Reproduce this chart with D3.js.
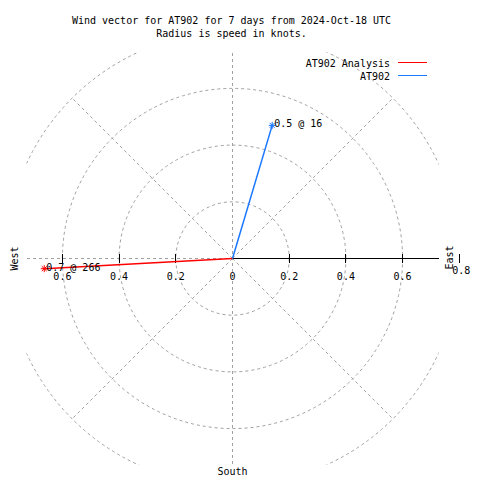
<!DOCTYPE html>
<html>
<head>
<meta charset="utf-8">
<script src="https://cdn.jsdelivr.net/npm/d3@7"></script>
<style>
  html, body { margin: 0; padding: 0; background: #fff; }
  svg { display: block; }
  text { font-family: "DejaVu Sans Mono", "Liberation Mono", monospace; font-size: 10px; fill: #000; }
</style>
</head>
<body>
<div id="chart"></div>
<script>
// ---- data ----
const titleLines = ["Wind vector for AT902 for 7 days from 2024-Oct-18 UTC", "Radius is speed in knots."];
const seriesNames = ["AT902 Analysis", "AT902"];
const seriesColors = ["#ff0000", "#1a78ff"];
const seriesSpeed = [0.665, 0.49];      // knots
const seriesDir = [266.9, 16.6];        // degrees, clockwise from north
const seriesLabels = ["0.7 @ 266", "0.5 @ 16"];
const ringValues = [0.2, 0.4, 0.6, 0.8];
const tickValues = [0.2, 0.4, 0.6];
const tickLabelsWest = ["0.6", "0.4", "0.2"];
const tickLabelsEast = ["0", "0.2", "0.4", "0.6", "0.8"];
const compassLabels = ["West", "East", "South"];
const spokeAngles = [45, 135, 225, 315];

// ---- layout ----
const W = 480, H = 480;
const cx = 232.5, cy = 258.5;
const half = 206;  // half width of plot square (px)
const r = d3.scaleLinear().domain([0, 0.8]).range([0, 226.8]);

const svg = d3.select("#chart").append("svg").attr("width", W).attr("height", H);

svg.append("defs").append("clipPath").attr("id", "plotclip")
  .append("rect").attr("x", cx - half).attr("y", cy - half).attr("width", 2 * half).attr("height", 2 * half);

const grid = svg.append("g").attr("clip-path", "url(#plotclip)")
  .attr("fill", "none").attr("stroke", "#a0a0a0").attr("stroke-width", 1).attr("stroke-dasharray", "3,3");

// rings
grid.selectAll("circle").data(ringValues).join("circle")
  .attr("cx", cx).attr("cy", cy).attr("r", d => r(d));

// vertical & horizontal lines
grid.append("line").attr("x1", cx).attr("x2", cx).attr("y1", cy - half).attr("y2", cy + half).attr("shape-rendering", "crispEdges");
grid.append("line").attr("x1", cx - half).attr("x2", cx).attr("y1", cy).attr("y2", cy).attr("shape-rendering", "crispEdges");

// diagonal spokes
grid.selectAll("line.spoke").data(spokeAngles).join("line").attr("class", "spoke")
  .attr("x1", cx).attr("y1", cy)
  .attr("x2", d => cx + r(0.8) * Math.sin(d * Math.PI / 180))
  .attr("y2", d => cy - r(0.8) * Math.cos(d * Math.PI / 180));

// east axis (solid black)
const ax = svg.append("g").attr("stroke", "#000").attr("stroke-width", 1).attr("shape-rendering", "crispEdges");
ax.append("line").attr("x1", cx).attr("x2", cx + half).attr("y1", cy).attr("y2", cy);
// ticks both sides
const tickPos = [];
tickValues.forEach(v => { tickPos.push(cx - r(v)); tickPos.push(cx + r(v)); });
tickPos.push(cx + r(0.8));
ax.selectAll("line.tick").data(tickPos).join("line").attr("class", "tick")
  .attr("x1", d => d).attr("x2", d => d).attr("y1", cy - 5).attr("y2", cy + 4);

// tick labels
const tl = svg.append("g").attr("text-anchor", "middle");
tl.selectAll("text.w").data(tickLabelsWest).join("text").attr("class", "w")
  .attr("x", d => cx - r(+d)).attr("y", cy + 21).text(d => d);
tl.selectAll("text.e").data(tickLabelsEast).join("text").attr("class", "e")
  .attr("x", d => cx + r(+d) + (+d === 0.8 ? 2 : 0)).attr("y", d => cy + (+d === 0.8 ? 15 : 21)).text(d => d);

// compass labels
svg.append("text").attr("transform", `translate(${cx - half - 9},${cy}) rotate(-90)`).attr("text-anchor", "middle").text(compassLabels[0]);
svg.append("text").attr("transform", `translate(${cx + half + 14},${cy - 1}) rotate(-90)`).attr("text-anchor", "middle").text(compassLabels[1]);
svg.append("text").attr("x", cx).attr("y", cy + 216).attr("text-anchor", "middle").text(compassLabels[2]);

// vectors
const pts = seriesSpeed.map((s, i) => ({
  x: cx + r(s) * Math.sin(seriesDir[i] * Math.PI / 180),
  y: cy - r(s) * Math.cos(seriesDir[i] * Math.PI / 180),
  color: seriesColors[i], label: seriesLabels[i]
}));
const vec = svg.append("g");
vec.selectAll("line.v").data(pts).join("line").attr("class", "v")
  .attr("x1", cx).attr("y1", cy).attr("x2", d => d.x).attr("y2", d => d.y)
  .attr("stroke", d => d.color).attr("stroke-width", 1.5);
// asterisk markers
const star = (x, y, s) => {
  const d = s * 0.7071;
  return `M${x - s},${y}L${x + s},${y}M${x},${y - s}L${x},${y + s}M${x - d},${y - d}L${x + d},${y + d}M${x - d},${y + d}L${x + d},${y - d}`;
};
vec.selectAll("path.m").data(pts).join("path").attr("class", "m")
  .attr("d", d => star(d.x, d.y, 3.5)).attr("stroke", d => d.color).attr("stroke-width", 1).attr("fill", "none");
vec.selectAll("text.l").data(pts).join("text").attr("class", "l")
  .attr("x", d => d.x + 2).attr("y", d => d.y + 2).text(d => d.label);

// title
svg.selectAll("text.title").data(titleLines).join("text").attr("class", "title")
  .attr("x", 231.5).attr("y", (d, i) => 24 + i * 13).attr("text-anchor", "middle").text(d => d);

// legend
const lg = svg.append("g");
seriesNames.forEach((n, i) => {
  const y = 62 + i * 13;
  lg.append("text").attr("x", 390).attr("y", y + 5).attr("text-anchor", "end").text(n);
  lg.append("line").attr("x1", 398).attr("x2", 427).attr("y1", y + 0.5).attr("y2", y + 0.5)
    .attr("stroke", seriesColors[i]).attr("stroke-width", 1);
});
</script>
</body>
</html>
